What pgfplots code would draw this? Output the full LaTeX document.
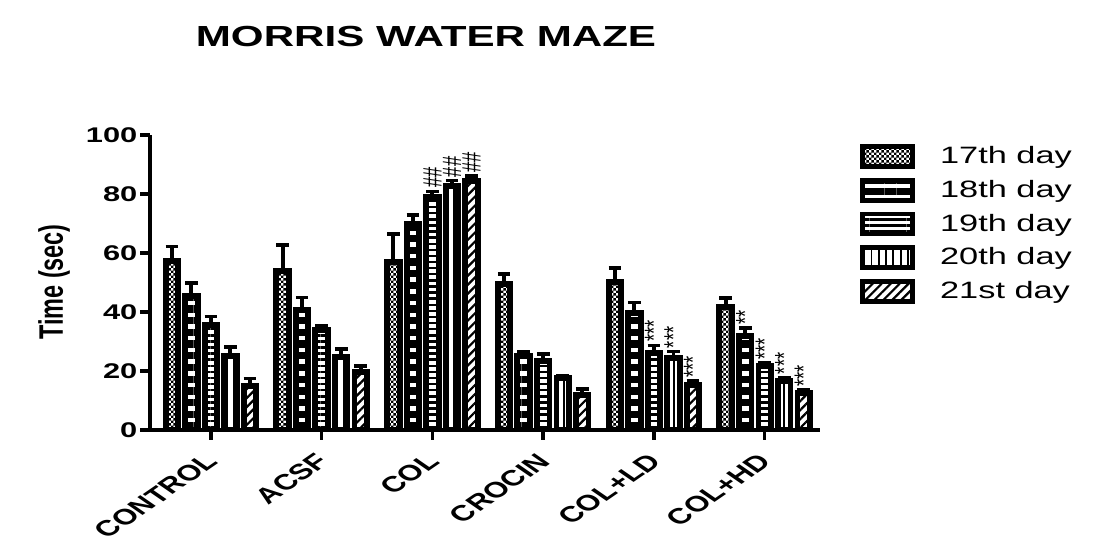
\documentclass[border=0pt]{standalone}
\usepackage{fontspec}
\setmainfont{Liberation Sans}[FakeStretch=1.45]
\newfontfamily\plainsans{Liberation Sans}
\usepackage{pgfplots}
\pgfplotsset{compat=1.18}
\usetikzlibrary{patterns,patterns.meta}

\def\px{0.40966pt}

% small checkerboard for the 17th day
\pgfdeclarepatternformonly{finecheck}{\pgfqpoint{0pt}{0pt}}{\pgfqpoint{2pt}{2pt}}{\pgfqpoint{2pt}{2pt}}{%
  \pgfpathrectangle{\pgfqpoint{0pt}{0pt}}{\pgfqpoint{1pt}{1pt}}%
  \pgfpathrectangle{\pgfqpoint{1pt}{1pt}}{\pgfqpoint{1pt}{1pt}}%
  \pgfusepath{fill}}

\pgfplotsset{
  mybar/.style={ybar, bar width=5.14pt, bar shift=#1, draw=black, line width=2.4pt,
    legend image code/.code={\draw[##1, line width=2pt] (0pt,-3.9pt) rectangle (20.5pt,4.3pt);},
    error bars/y dir=plus, error bars/y explicit, error bars/error mark=-,
    error bars/error bar style={line width=1.6pt, black, xshift=#1},
    error bars/error mark options={rotate=90, line width=1.5pt, mark size=2.6pt, black}},
}
\tikzset{
  annot/.style={font=\plainsans\fontsize{7.5}{9}\selectfont, cm={0,1,-1.45,0,(0pt,0pt)}, anchor=west, inner sep=1.2pt},
}

\begin{document}
\begin{tikzpicture}
\useasboundingbox (0,0) rectangle ({1107*\px},{555*\px});

% title and y label
\node[font=\fontsize{11.9}{13}\selectfont\bfseries] at ({426*\px},{518*\px}) {MORRIS WATER MAZE};
\node[font=\plainsans\fontsize{9.6}{11}\selectfont\bfseries, cm={0,1,-1.45,0,(0pt,0pt)}] at ({54*\px},{273*\px}) {Time (sec)};

\begin{axis}[
  at={({150*\px},{125*\px})}, anchor=south west,
  scale only axis, width=274.5pt, height=120.85pt,
  xmin=-0.55, xmax=5.5, ymin=0, ymax=100,
  axis lines*=left, axis line style={line width=1.6pt, -},
  xtick={0,...,5}, ytick={0,20,...,100},
  xticklabels={CONTROL,ACSF,COL,CROCIN,COL+LD,COL+HD},
  tick align=outside, major tick length=4pt,
  tick style={line width=1.4pt, black},
  yticklabel style={font=\fontsize{8.7}{10}\selectfont\bfseries, inner sep=1pt,
    /pgf/number format/assume math mode=true},
  xticklabel style={font=\plainsans\fontsize{9}{11}\selectfont\bfseries,
    xshift=-3pt, cm={1.025,0.707,-1.025,0.707,(0pt,0pt)}, anchor=north east},
  legend cell align=left,
  legend style={at={(1.0597,0.969)}, anchor=north west, draw=none, fill=none,
    inner sep=0pt, outer sep=0pt, row sep=3.6pt, column sep=10.3pt,
    nodes={inner sep=0pt},
    font=\fontsize{9.7}{11}\selectfont},
]

% 17th day
\addplot[mybar=-16pt, fill=white, pattern=finecheck, pattern color=black]
  coordinates {(0,57.4) +- (0,4.8) (1,53.8) +- (0,9.0) (2,56.9) +- (0,9.6)
               (3,49.6) +- (0,3.3) (4,50.1) +- (0,4.8) (5,41.7) +- (0,3.0)};
\addlegendentry{17th day}

% 18th day
\addplot[mybar=-8pt, fill=white,
  pattern={Lines[angle=0,distance=4.8pt,line width=3pt]}, pattern color=black]
  coordinates {(0,45.3) +- (0,4.5) (1,40.6) +- (0,4.3) (2,69.8) +- (0,3.1)
               (3,25.0) +- (0,1.4) (4,39.7) +- (0,3.5) (5,31.8) +- (0,2.7)};
\addlegendentry{18th day}

% 19th day
\addplot[mybar=0pt, fill=white,
  pattern={Lines[angle=0,distance=2.5pt,line width=1pt]}, pattern color=black]
  coordinates {(0,35.5) +- (0,3.0) (1,33.8) +- (0,1.6) (2,79.0) +- (0,1.9)
               (3,23.3) +- (0,2.5) (4,26.1) +- (0,2.6) (5,21.6) +- (0,1.1)};
\addlegendentry{19th day}

% 20th day
\addplot[mybar=8pt, fill=white,
  pattern={Lines[angle=90,distance=3pt,line width=0.8pt]}, pattern color=black]
  coordinates {(0,25.0) +- (0,3.1) (1,24.7) +- (0,2.8) (2,82.6) +- (0,2.0)
               (3,17.6) +- (0,0.9) (4,24.4) +- (0,2.2) (5,16.5) +- (0,1.3)};
\addlegendentry{20th day}

% 21st day
\addplot[mybar=16pt, fill=white,
  pattern={Lines[angle=45,distance=2.6pt,line width=0.9pt]}, pattern color=black]
  coordinates {(0,14.8) +- (0,2.7) (1,19.6) +- (0,2.2) (2,84.3) +- (0,1.9)
               (3,12.0) +- (0,1.8) (4,15.4) +- (0,1.1) (5,12.6) +- (0,0.9)};
\addlegendentry{21st day}

% significance marks
\node[annot] at (axis cs:2,80.9) {\#\#};
\node[annot] at (axis cs:2.1764,84.6) {\#\#};
\node[annot] at (axis cs:2.3528,86.2) {\#\#};
\node[annot] at (axis cs:4,28.7) {***};
\node[annot] at (axis cs:4.1764,26.6) {***};
\node[annot] at (axis cs:4.3528,16.5) {***};
\node[annot] at (axis cs:4.8236,34.5) {**};
\node[annot] at (axis cs:5,22.7) {***};
\node[annot] at (axis cs:5.1764,17.8) {***};
\node[annot] at (axis cs:5.3528,13.5) {***};
\end{axis}
\end{tikzpicture}
\end{document}
